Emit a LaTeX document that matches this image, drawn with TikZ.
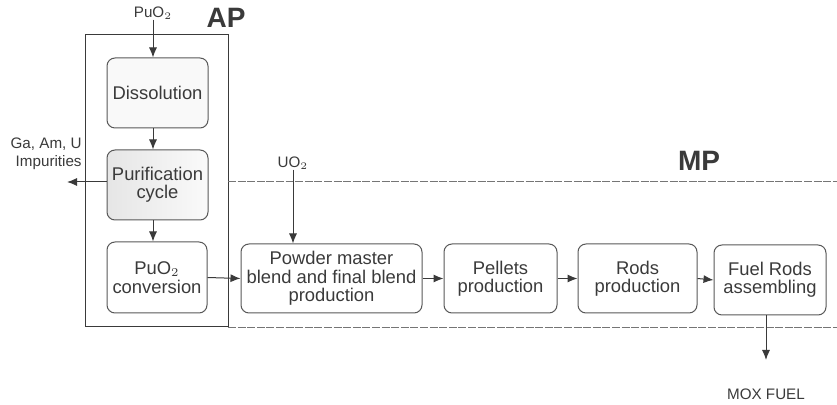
\documentclass[tikz,border=0pt]{standalone}
\usepackage{fontspec}
\setmainfont{Liberation Sans}
\usetikzlibrary{arrows.meta}
\tikzset{>={Latex[length=5pt,width=4pt]}}
\definecolor{ink}{HTML}{3A3A3A}
\tikzset{
    stagebox/.style={draw=ink!85,line width=0.5pt,rounded corners=4pt,align=center,
        text=ink,font=\fontsize{9.2}{9.2}\selectfont,inner sep=1pt},
    smalltxt/.style={text=ink,font=\fontsize{7.6}{8.8}\selectfont,inner sep=0pt},
    zonetxt/.style={text=ink,font=\fontsize{14}{14}\selectfont\bfseries,inner sep=0pt},
    flow/.style={->,draw=ink,line width=0.5pt},
    zoneline/.style={draw=ink!70,line width=0.5pt,dash pattern=on 4pt off 0.8pt}
}

\begin{document}
\begin{tikzpicture}[x=0.5pt,y=-0.5pt]
    \useasboundingbox (0,0) rectangle (837,405);

    % zones
    \draw[ink,line width=0.5pt] (85,35) rectangle (228,327);
    \draw[zoneline] (228,182) -- (837,182);
    \draw[zoneline] (228,328) -- (837,328);
    \node[zonetxt] (ap) at (226,18) {AP};
    \node[zonetxt] (mp) at (699,161) {MP};

    % AP stages
    \node[stagebox,fill=gray!5,minimum width=50.5pt,minimum height=35pt] (diss) at (157.5,93) {Dissolution};
    \node[stagebox,left color=gray!20,right color=gray!4,minimum width=50.5pt,minimum height=35pt] (purif) at (157.5,185) {Purification\\cycle};
    \node[stagebox,minimum width=50pt,minimum height=35.5pt] (conv) at (157,277.5) {PuO$_2$\\conversion};

    % MP stages
    \node[stagebox,minimum width=90.5pt,minimum height=34.5pt] (powder) at (331.5,278.5) {Powder master\\blend and final blend\\production};
    \node[stagebox,minimum width=56.5pt,minimum height=34.5pt] (pellets) at (500.5,278.5) {Pellets\\production};
    \node[stagebox,minimum width=59.5pt,minimum height=34.5pt] (rods) at (637.5,278.5) {Rods\\production};
    \node[stagebox,minimum width=56pt,minimum height=35pt] (fuel) at (770,280) {Fuel Rods\\assembling};

    % inputs and outputs
    \node[smalltxt] (puin) at (153,13) {PuO$_2$};
    \node[smalltxt] (uoin) at (293,163) {UO$_2$};
    \node[smalltxt,align=right,anchor=east] (waste) at (82,154) {Ga, Am, U\\Impurities};
    \node[smalltxt] (mox) at (766,394) {MOX FUEL};
    \coordinate (wasteend) at (67,182);
    \coordinate (moxend) at (766,360);

    \draw[flow] (puin.south) -- (puin.south |- diss.north);
    \draw[flow] (153,0 |- diss.south) -- (153,0 |- purif.north);
    \draw[flow] (153,0 |- purif.south) -- (153,0 |- conv.north);
    \draw[flow] (purif.west |- wasteend) -- (wasteend);
    \draw[flow] (uoin.south) -- (uoin.south |- powder.north);
    \draw[flow] (conv.east) -- (powder.west);
    \draw[flow] (powder.east) -- (pellets.west);
    \draw[flow] (pellets.east) -- (rods.west);
    \draw[flow] (rods.east) -- (fuel.west);
    \draw[flow] (moxend |- fuel.south) -- (moxend);
\end{tikzpicture}
\end{document}
